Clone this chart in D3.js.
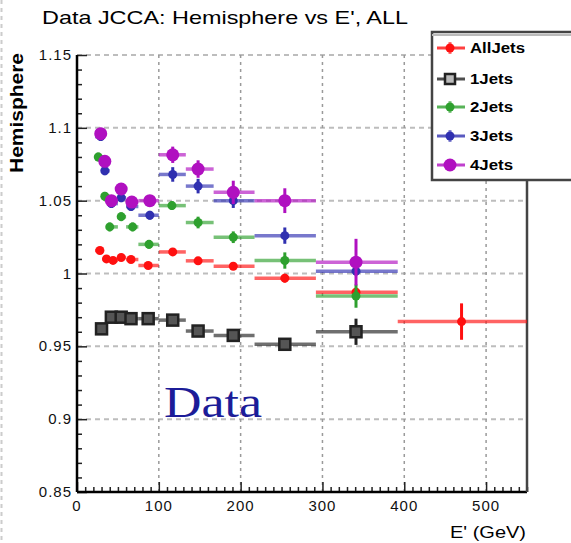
<!DOCTYPE html>
<html><head><meta charset="utf-8">
<script src="https://cdn.jsdelivr.net/npm/d3@7"></script>
<style>html,body{margin:0;padding:0;background:#fff;}svg{display:block;font-family:"Liberation Sans",Arial,sans-serif;}</style>
</head><body>
<svg id="c" width="571" height="543"></svg>
<script>
// ---- data ----
const binEdges = [22,32,40,50,60,75,100,133,167,217,292,392,550];
const allX  = [28,36,44,54,66,87,117,148,191,254,341,470];
const allY  = [1.0158,1.010,1.009,1.011,1.0096,1.0055,1.0148,1.0087,1.0050,0.9968,0.9872,0.967];
const allE  = [0.002,0.002,0.002,0.002,0.002,0.002,0.002,0.002,0.002,0.003,0.003,0.0125];
const j1X   = [30,42,54,66,87,117,148,191,254,341];
const j1Y   = [0.962,0.970,0.970,0.969,0.969,0.968,0.9605,0.9575,0.9514,0.960];
const j1E   = [0.002,0.002,0.002,0.002,0.002,0.002,0.002,0.002,0.003,0.009];
const j2X   = [26,34,40,54,68,88,116,148,191,254,341];
const j2Y   = [1.080,1.053,1.032,1.039,1.032,1.020,1.0466,1.035,1.0249,1.0089,0.9845];
const j2E   = [0.003,0.003,0.003,0.003,0.003,0.003,0.003,0.004,0.004,0.0056,0.008];
const j3X   = [29,34,42,54,66,89,117,148,191,254,341];
const j3Y   = [1.094,1.0705,1.048,1.052,1.046,1.040,1.068,1.060,1.050,1.026,1.0016];
const j3E   = [0.003,0.003,0.003,0.003,0.003,0.003,0.005,0.005,0.005,0.0056,0.003];
const j4X   = [29,34,42,54,67,89,117,148,191,254,341];
const j4Y   = [1.096,1.077,1.050,1.058,1.049,1.050,1.0815,1.0717,1.0557,1.050,1.0078];
const j4E   = [0.004,0.004,0.003,0.003,0.003,0.003,0.0056,0.006,0.008,0.0085,0.016];
const seriesNames = ["AllJets","1Jets","2Jets","3Jets","4Jets"];
const yTicks = [0.85,0.9,0.95,1,1.05,1.1,1.15];
const yTickLabels = ["0.85","0.9","0.95","1","1.05","1.1","1.15"];
const xTicks = [0,100,200,300,400,500];
const titleText = "Data JCCA: Hemisphere vs E', ALL";

// ---- style ----
const series = [
  {name:seriesNames[0], x:allX, y:allY, e:allE, color:"#ff1010", shape:"circle", r:4.5},
  {name:seriesNames[1], x:j1X, y:j1Y, e:j1E, color:"#222", shape:"square", r:5.5},
  {name:seriesNames[2], x:j2X, y:j2Y, e:j2E, color:"#2ea02e", shape:"circle", r:4.5},
  {name:seriesNames[3], x:j3X, y:j3Y, e:j3E, color:"#3030b0", shape:"circle", r:4.5},
  {name:seriesNames[4], x:j4X, y:j4Y, e:j4E, color:"#b010c0", shape:"circle", r:6.5}
];
const L=77, R=527, T=55, B=492;
const svg = d3.select("#c");
const x = d3.scaleLinear().domain([0,550]).range([L,R]);
const y = d3.scaleLinear().domain([0.85,1.15]).range([B,T]);

// left page dashed border
svg.append("line").attr("x1",1.5).attr("x2",1.5).attr("y1",0).attr("y2",543)
  .attr("stroke","#ccc").attr("stroke-width",2).attr("stroke-dasharray","4,4");

// gridlines
svg.append("g").selectAll("line").data(yTicks.filter(v=>v>0.86)).join("line")
  .attr("x1",L).attr("x2",R).attr("y1",d=>y(d)).attr("y2",d=>y(d))
  .attr("stroke","#bdbdbd").attr("stroke-width",2).attr("stroke-dasharray","5,4");
svg.append("g").selectAll("line").data(xTicks.filter(v=>v>0)).join("line")
  .attr("x1",d=>x(d)).attr("x2",d=>x(d)).attr("y1",T).attr("y2",B)
  .attr("stroke","#9a9a9a").attr("stroke-width",1.5).attr("stroke-dasharray","3,4");

// axes (ROOT style: ticks inside)
const yAxis = d3.axisRight(y).tickValues(d3.range(85,116,1).map(v=>v/100)).tickSize(5).tickFormat("");
const gy = svg.append("g").attr("transform",`translate(${L},0)`).call(yAxis);
gy.selectAll(".tick line").attr("stroke","#222").attr("stroke-width",1.5)
  .attr("x2",d=>Math.abs(Math.round(d*100)%5)<1e-6?10:5);
gy.select(".domain").remove();
const xAxis = d3.axisTop(x).tickValues(d3.range(0,551,10)).tickSize(5).tickFormat("");
const gx = svg.append("g").attr("transform",`translate(0,${B})`).call(xAxis);
gx.selectAll(".tick line").attr("stroke","#222").attr("stroke-width",1.5)
  .attr("y2",d=>d%100===0?-10:-5);
gx.select(".domain").remove();
svg.append("line").attr("x1",L).attr("x2",L).attr("y1",T).attr("y2",B).attr("stroke","#000").attr("stroke-width",2.5);
svg.append("line").attr("x1",L).attr("x2",R).attr("y1",B).attr("y2",B).attr("stroke","#000").attr("stroke-width",2.5);
svg.append("line").attr("x1",R).attr("x2",R).attr("y1",T).attr("y2",B).attr("stroke","#444").attr("stroke-width",2.5);

// tick labels
svg.append("g").selectAll("text").data(yTicks).join("text")
  .attr("x",L-5).attr("y",d=>y(d)+5).attr("text-anchor","end")
  .attr("font-size",15).attr("letter-spacing","1px").attr("fill","#111")
  .text((d,i)=>yTickLabels[i]);
svg.append("g").selectAll("text").data(xTicks).join("text")
  .attr("x",d=>x(d)).attr("y",511).attr("text-anchor","middle")
  .attr("font-size",15).attr("letter-spacing","1px").attr("fill","#111")
  .text(d=>d);

// titles
svg.append("text").attr("x",42).attr("y",24).attr("font-size",19)
  .attr("textLength",366).attr("lengthAdjust","spacingAndGlyphs").attr("fill","#000").text(titleText);
svg.append("text").attr("transform","translate(23,53) rotate(-90)").attr("text-anchor","end")
  .attr("font-size",18).attr("font-weight","bold").attr("textLength",120).attr("lengthAdjust","spacingAndGlyphs")
  .attr("fill","#000").text("Hemisphere");
svg.append("text").attr("x",526).attr("y",538).attr("text-anchor","end")
  .attr("font-size",17).attr("textLength",76).attr("lengthAdjust","spacingAndGlyphs")
  .attr("fill","#000").text("E' (GeV)");

// data
function binOf(v){ const i = d3.bisectRight(binEdges, v) - 1; return [binEdges[Math.max(0,i)], binEdges[Math.min(binEdges.length-1,i+1)]]; }
series.forEach(s=>{
  const g = svg.append("g");
  const pts = s.x.map((xv,i)=>({x:xv, y:s.y[i], e:s.e[i], b:binOf(xv)}));
  g.selectAll(".h").data(pts).join("line")
    .attr("x1",d=>x(d.b[0])).attr("x2",d=>x(d.b[1])).attr("y1",d=>y(d.y)).attr("y2",d=>y(d.y))
    .attr("stroke",s.color).attr("stroke-width",3.5).attr("stroke-opacity",0.65);
  g.selectAll(".v").data(pts).join("line")
    .attr("x1",d=>x(d.x)).attr("x2",d=>x(d.x)).attr("y1",d=>y(d.y-d.e)).attr("y2",d=>y(d.y+d.e))
    .attr("stroke",s.color).attr("stroke-width",3);
  if(s.shape==="square"){
    g.selectAll("rect").data(pts).join("rect")
      .attr("x",d=>x(d.x)-s.r).attr("y",d=>y(d.y)-s.r).attr("width",2*s.r).attr("height",2*s.r)
      .attr("fill","#555").attr("stroke",s.color).attr("stroke-width",2.5);
  } else {
    g.selectAll("circle").data(pts).join("circle")
      .attr("cx",d=>x(d.x)).attr("cy",d=>y(d.y)).attr("r",s.r).attr("fill",s.color);
  }
});

// "Data" label
svg.append("text").attr("x",164).attr("y",417).attr("font-family","'Liberation Serif','Times New Roman',serif")
  .attr("font-size",44).attr("textLength",98).attr("lengthAdjust","spacingAndGlyphs")
  .attr("fill","#1c1c98").text("Data");

// legend
const lg = svg.append("g");
lg.append("rect").attr("x",432).attr("y",32).attr("width",160).attr("height",148)
  .attr("fill","#fff").attr("stroke","#444").attr("stroke-width",2.5);
lg.append("line").attr("x1",432).attr("x2",600).attr("y1",35).attr("y2",35).attr("stroke","#bbb").attr("stroke-width",2);
const legY = [48,79,107,136,165];
series.forEach((s,i)=>{
  const yy = legY[i];
  lg.append("line").attr("x1",437).attr("x2",465).attr("y1",yy).attr("y2",yy).attr("stroke",s.color).attr("stroke-width",3).attr("stroke-opacity",0.8);
  lg.append("line").attr("x1",450).attr("x2",450).attr("y1",yy-6).attr("y2",yy+6).attr("stroke",s.color).attr("stroke-width",3).attr("stroke-opacity",0.6);
  if(s.shape==="square"){
    lg.append("rect").attr("x",445).attr("y",yy-5).attr("width",10).attr("height",10).attr("fill","#bbb").attr("stroke",s.color).attr("stroke-width",2.5);
  } else {
    lg.append("circle").attr("cx",450).attr("cy",yy).attr("r",s.r).attr("fill",s.color);
  }
  lg.append("text").attr("x",470).attr("y",yy+5).attr("font-size",14).attr("font-weight","bold")
    .attr("textLength",s.name.length>5?55:43).attr("lengthAdjust","spacingAndGlyphs").attr("fill","#000").text(s.name);
});
</script>
</body></html>
